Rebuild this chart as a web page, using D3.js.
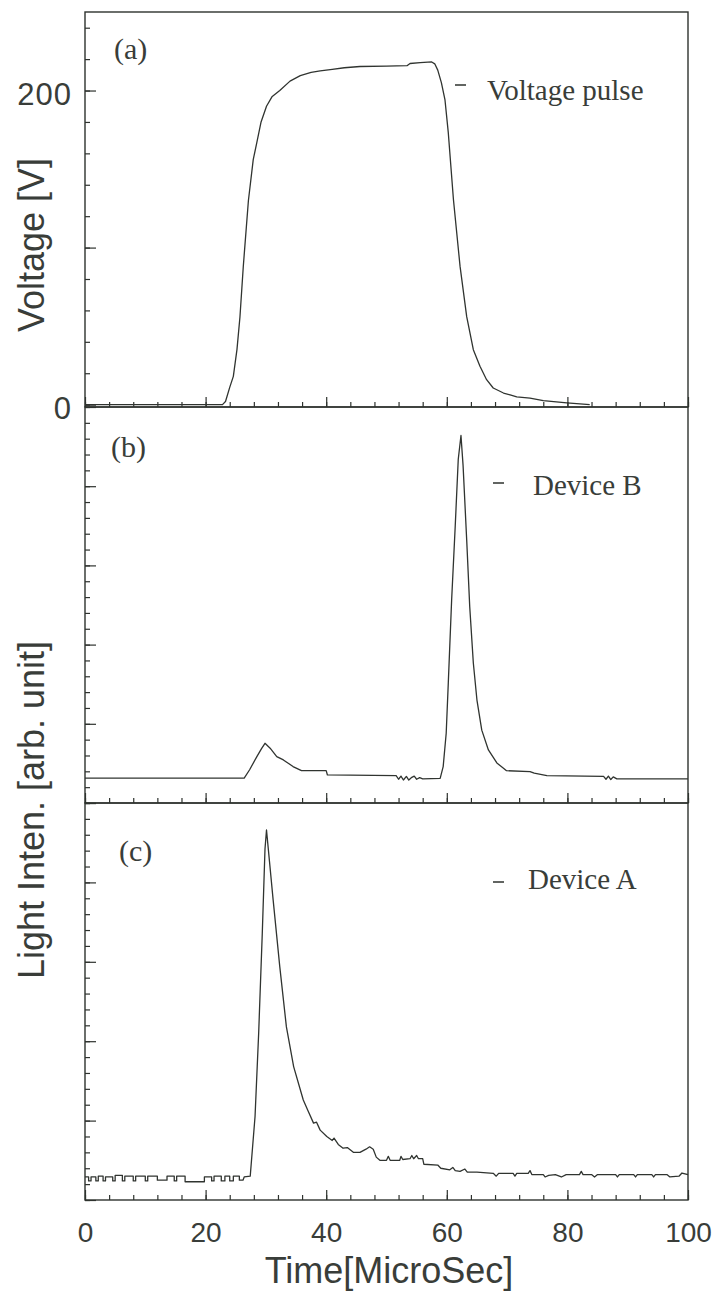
<!DOCTYPE html>
<html>
<head>
<meta charset="utf-8">
<script src="https://cdn.jsdelivr.net/npm/d3@7"></script>
<style>
  body { margin: 0; background: #fff; }
  .domain { display: none; }
  .tick line { stroke: #2e322e; stroke-width: 1.2; }
  .tick text { font-family: "Liberation Sans", Arial, sans-serif; font-size: 28px; fill: #393d39; }
</style>
</head>
<body>
<div id="chart"></div>
<script>
// time axis [MicroSec]
var timeMinorTicks = d3.range(0, 101, 4);
var timeMajorTicks = [0, 20, 40, 60, 80, 100];

// (a) voltage pulse [V]
var voltMinorTicks = d3.range(0, 241, 20);
var voltMajorTicks = [0, 100, 200];
var voltTickLabels = [0, 200];
var voltT = [0, 22.8, 23.3, 24.0, 24.6, 25.2, 25.7, 26.25, 27.1, 27.9, 28.5, 29.2, 30.1, 31.0, 32.3, 34.0, 35.7,
  37.5, 39.0, 41.0, 43.0, 45.6, 50.0, 53.4, 53.9, 55.6, 57.5, 58.0, 58.5, 59.1, 59.7, 60.25, 61.1, 62.2,
  63.3, 64.4, 65.5, 66.6, 67.7, 69.4, 70.5, 71.6, 73.8, 76.0, 79.9, 83.7];
var voltV = [0, 0, 2, 11, 18, 35, 56, 88, 130, 156, 167, 180, 190, 196, 200, 206, 209.5,
  211.5, 212.5, 213.5, 214.5, 215.3, 215.6, 215.8, 217.2, 217.8, 218.2, 217, 213, 205, 194, 173, 130.6, 88,
  56, 35, 24.4, 15.9, 10.6, 7.4, 6.2, 4.9, 4.2, 2.5, 1.1, 0];

// (b) and (c) light intensity [arb. unit]
var lightMinorTicks = d3.range(0, 26, 1);
var lightMajorTicks = [0, 5, 10, 15, 20, 25];

var devBT = [0, 26.4, 27.3, 28.5, 29.3, 29.85, 30.7, 31.8, 32.9, 34.5, 35.9, 40.0, 40.2, 51.6, 52.0, 52.4,
  52.8, 53.3, 53.7, 54.2, 54.6, 55.0, 55.5, 56.0, 58.9, 59.4, 59.9, 60.25, 60.8, 61.4, 61.9, 62.35, 62.7,
  63.3, 63.8, 64.4, 65.0, 65.8, 66.9, 68.3, 69.4, 69.9, 73.8, 74.5, 76.6, 86.0, 86.4, 86.8, 87.2, 87.6,
  88.2, 100];
var devBV = [1.57, 1.57, 2.1, 2.93, 3.45, 3.77, 3.46, 2.93, 2.72, 2.3, 2.04, 2.04, 1.77, 1.73, 1.5, 1.7,
  1.45, 1.68, 1.45, 1.62, 1.7, 1.5, 1.6, 1.52, 1.55, 2.3, 4.4, 7.6, 12.8, 17.5, 21.7, 23.2, 21.3,
  16.6, 12.4, 8.84, 6.5, 4.6, 3.35, 2.53, 2.2, 2.04, 1.98, 1.88, 1.73, 1.68, 1.5, 1.7, 1.48, 1.65,
  1.52, 1.52];

var devAT = [0, 0.6, 0.6, 1.0, 1.0, 1.8, 1.8, 2.2, 2.2, 3.0, 3.0, 3.4, 3.4, 4.6, 4.6, 5.0, 5.0, 6.2, 6.2,
  6.6, 6.6, 8.0, 8.0, 8.4, 8.4, 10.0, 10.0, 10.4, 10.4, 12.0, 12.0, 13.6, 13.6, 14.8, 14.8, 15.2, 15.2,
  16.6, 16.6, 19.8, 19.8, 21.0, 21.0, 21.4, 21.4, 22.6, 22.6, 23.2, 23.2, 24.0, 24.0, 24.6, 24.6, 25.6,
  25.6, 26.2, 26.4, 27.4,
  28.2, 28.8, 29.4, 29.85, 30.1, 30.6, 31.2, 32.3, 33.4, 34.6, 36.2, 37.0, 37.9, 38.4, 39.0, 40.1, 41.0,
  41.3, 42.0, 42.8, 43.5, 44.5, 45.6, 46.6, 47.2, 47.8, 48.3, 48.9, 50.0, 50.3, 50.6, 52.2, 52.4, 52.7,
  53.9, 54.2, 54.5, 55.0, 55.3, 56.0, 56.2, 58.5, 59.0, 60.5, 61.0, 61.4, 62.2, 63.0, 63.4, 65.0, 67.7,
  68.2, 68.6, 71.0, 71.3, 71.6, 73.5, 73.8, 74.1, 76.0, 76.3, 76.9, 78.0, 79.0, 79.8, 82.0, 82.3, 82.6,
  84.0, 84.5, 85.0, 88.0, 88.3, 88.6, 91.0, 91.3, 91.6, 94.0, 94.3, 94.6, 96.5, 97.0, 98.5, 99.0, 100];
var devAV = [1.45, 1.45, 1.2, 1.2, 1.45, 1.45, 1.2, 1.2, 1.5, 1.5, 1.2, 1.2, 1.45, 1.45, 1.2, 1.2, 1.55, 1.55, 1.2,
  1.2, 1.5, 1.5, 1.2, 1.2, 1.5, 1.5, 1.2, 1.2, 1.5, 1.5, 1.25, 1.25, 1.5, 1.5, 1.2, 1.2, 1.5,
  1.5, 1.15, 1.15, 1.45, 1.45, 1.2, 1.2, 1.5, 1.5, 1.2, 1.2, 1.5, 1.5, 1.2, 1.2, 1.5, 1.5,
  1.25, 1.25, 1.45, 1.5,
  5.26, 10.5, 16.8, 22.1, 23.3, 21.3, 18.9, 14.7, 10.9, 8.4, 6.3, 5.6, 4.84, 4.9, 4.4, 4.0, 3.75,
  3.9, 3.5, 3.26, 3.3, 3.0, 3.0, 3.2, 3.35, 3.2, 2.7, 2.5, 2.5, 2.75, 2.5, 2.5, 2.75, 2.55,
  2.6, 2.8, 2.6, 2.8, 2.6, 2.6, 2.25, 2.2, 2.0, 1.9, 2.05, 1.85, 1.8, 1.95, 1.75, 1.75, 1.68,
  1.5, 1.68, 1.68, 1.5, 1.68, 1.68, 1.85, 1.6, 1.6, 1.45, 1.55, 1.6, 1.45, 1.6, 1.6, 1.8, 1.6,
  1.6, 1.45, 1.6, 1.6, 1.45, 1.6, 1.6, 1.45, 1.6, 1.6, 1.45, 1.6, 1.6, 1.45, 1.5, 1.7, 1.6];

var ink = "#2e322e";
var textInk = "#393d39";
var left = 85, right = 688;

var svg = d3.select("#chart").append("svg")
    .attr("width", 719)
    .attr("height", 1293);

var x = d3.scaleLinear().domain([0, 100]).range([left, right]);

function drawPanel(top, bottom, yDomain, minorY, majorY, labelY, times, values, showTime) {
  var y = d3.scaleLinear().domain(yDomain).range([bottom, top]);

  // frame
  svg.append("rect")
    .attr("x", left).attr("y", top)
    .attr("width", right - left).attr("height", bottom - top)
    .attr("fill", "none").attr("stroke", ink).attr("stroke-width", 1.4);

  // left ticks, pointing inside
  svg.append("g")
    .attr("transform", "translate(" + left + ",0)")
    .call(d3.axisLeft(y).tickValues(minorY).tickSize(-5).tickFormat(""));
  var yMajor = svg.append("g")
    .attr("transform", "translate(" + left + ",0)")
    .call(d3.axisLeft(y).tickValues(majorY).tickSize(-11).tickPadding(13)
      .tickFormat(function(d) { return labelY.indexOf(d) >= 0 ? d : ""; }));
  yMajor.selectAll("text").attr("dy", "0.45em")
    .style("font-size", "31px").style("letter-spacing", "1px");

  // bottom ticks, pointing inside
  svg.append("g")
    .attr("transform", "translate(0," + bottom + ")")
    .call(d3.axisBottom(x).tickValues(timeMinorTicks).tickSize(-5).tickFormat(""));
  svg.append("g")
    .attr("transform", "translate(0," + bottom + ")")
    .call(d3.axisBottom(x).tickValues(timeMajorTicks).tickSize(-10).tickPadding(22)
      .tickFormat(function(d) { return showTime ? d : ""; }));

  var line = d3.line()
    .x(function(d) { return x(d[0]); })
    .y(function(d) { return y(d[1]); });

  svg.append("path")
    .datum(d3.zip(times, values))
    .attr("fill", "none")
    .attr("stroke", "#303430")
    .attr("stroke-width", 1.3)
    .attr("stroke-linejoin", "round")
    .attr("d", line);
}

drawPanel(12, 407, [-1.5, 250], voltMinorTicks, voltMajorTicks, voltTickLabels, voltT, voltV, false);
drawPanel(407, 803, [0, 25], lightMinorTicks, lightMajorTicks, [], devBT, devBV, false);
drawPanel(803, 1200, [0, 25], lightMinorTicks, lightMajorTicks, [], devAT, devAV, true);

// panel tags and legends (serif)
var serif = '"Liberation Serif", "Times New Roman", serif';
[["(a)", 114, 59], ["(b)", 111, 457], ["(c)", 119, 861]].forEach(function(p) {
  svg.append("text").attr("x", p[1]).attr("y", p[2])
    .style("font-family", serif).style("font-size", "30px").style("fill", textInk)
    .text(p[0]);
});

[["Voltage pulse", 455, 85, 487, 100], ["Device B", 493, 483, 533, 495], ["Device A", 493, 882, 528, 889]].forEach(function(l) {
  svg.append("line")
    .attr("x1", l[1]).attr("x2", l[1] + 11)
    .attr("y1", l[2]).attr("y2", l[2])
    .attr("stroke", ink).attr("stroke-width", 1.5);
  svg.append("text").attr("x", l[3]).attr("y", l[4])
    .style("font-family", serif).style("font-size", "29px").style("fill", textInk)
    .text(l[0]);
});

// axis titles
var sans = '"Liberation Sans", Arial, sans-serif';
svg.append("text")
  .attr("transform", "translate(44,245) rotate(-90)")
  .attr("text-anchor", "middle")
  .style("font-family", sans).style("font-size", "36px").style("fill", textInk)
  .text("Voltage [V]");
svg.append("text")
  .attr("transform", "translate(44,810) rotate(-90)")
  .attr("text-anchor", "middle")
  .style("font-family", sans).style("font-size", "36px").style("fill", textInk)
  .text("Light Inten. [arb. unit]");
svg.append("text")
  .attr("x", 389).attr("y", 1283)
  .attr("text-anchor", "middle")
  .style("font-family", sans).style("font-size", "36px").style("fill", textInk)
  .text("Time[MicroSec]");
</script>
</body>
</html>
